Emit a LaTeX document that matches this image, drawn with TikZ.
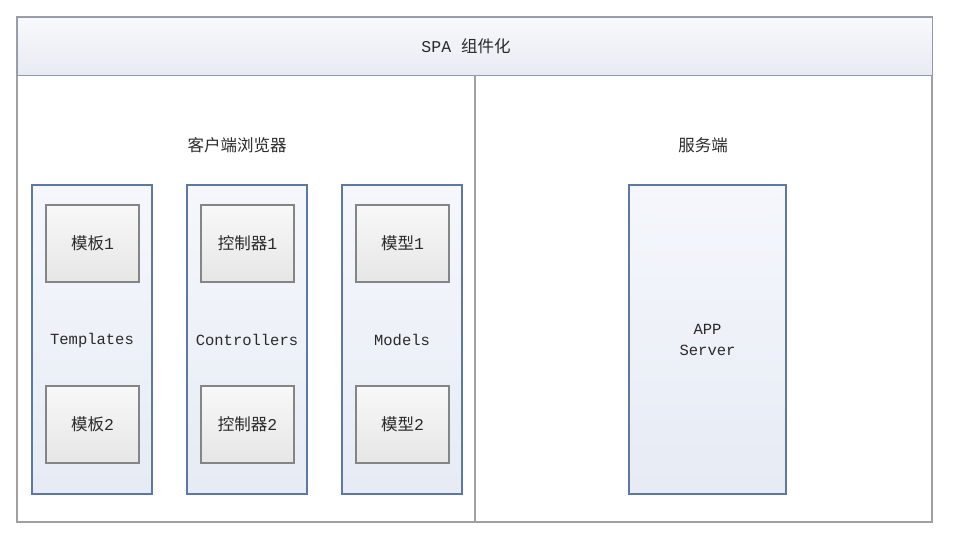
\documentclass[tikz,border=0pt]{standalone}
\usepackage{fontspec}
\newfontfamily\cjk{Noto Sans CJK SC}
\newfontfamily\mono{Liberation Mono}
\definecolor{txt}{HTML}{2A2A2A}
\definecolor{framegray}{HTML}{A0A0A0}
\definecolor{headline}{HTML}{8E99B0}
\definecolor{colline}{HTML}{5E78A6}
\definecolor{boxline}{HTML}{858585}
\definecolor{headtop}{HTML}{F8F9FC}
\definecolor{headbot}{HTML}{E8EBF2}
\definecolor{coltop}{HTML}{F5F7FC}
\definecolor{colbot}{HTML}{E6EBF4}
\definecolor{itemtop}{HTML}{F8F8F8}
\definecolor{itembot}{HTML}{E6E6E6}
\tikzset{
  base/.style={inner sep=0pt, outer sep=0pt, anchor=north west},
  header/.style={base, draw=headline, line width=1pt, top color=headtop, bottom color=headbot},
  colbox/.style={base, draw=colline, line width=1.2pt, top color=coltop, bottom color=colbot},
  itembox/.style={base, draw=boxline, line width=1.2pt, top color=itemtop, bottom color=itembot},
  cjktxt/.style={text=txt, font=\cjk\fontsize{16.5}{19}\selectfont},
  monotxt/.style={text=txt, font=\mono\fontsize{15.5}{21}\selectfont, align=center},
}
\newcommand{\mix}[2]{{\cjk #1}{\mono #2}}
\begin{document}
\begin{tikzpicture}[x=1pt,y=-1pt]
\useasboundingbox (0,0) rectangle (957,533);
% outer frame
\node[base, draw=framegray, line width=1.2pt, minimum width=915pt, minimum height=505pt] (frame) at (17,17) {};
\node[header, minimum width=915pt, minimum height=58pt] (head) at (17,17) {};
\node[text=txt, font=\fontsize{16.5}{19}\selectfont] (title) at (466,46) {{\mono SPA }{\cjk 组件化}};
\coordinate (dtop) at (475,75);
\coordinate (dbot) at (475,522);
\draw[framegray, line width=1.2pt] (dtop) -- (dbot);
% section labels
\node[cjktxt] (client) at (237,145) {客户端浏览器};
\node[cjktxt] (server) at (703,145) {服务端};
% columns
\node[colbox, minimum width=120pt, minimum height=309pt] (tcol) at (32,185) {};
\node[colbox, minimum width=120pt, minimum height=309pt] (ccol) at (187,185) {};
\node[colbox, minimum width=120pt, minimum height=309pt] (mcol) at (342,185) {};
\node[colbox, minimum width=157pt, minimum height=309pt] (app) at (629,185) {};
% items
\node[itembox, minimum width=93pt, minimum height=77pt] (t1) at (46,205) {};
\node[itembox, minimum width=93pt, minimum height=77pt] (t2) at (46,386) {};
\node[itembox, minimum width=93pt, minimum height=77pt] (c1) at (201,205) {};
\node[itembox, minimum width=93pt, minimum height=77pt] (c2) at (201,386) {};
\node[itembox, minimum width=93pt, minimum height=77pt] (m1) at (356,205) {};
\node[itembox, minimum width=93pt, minimum height=77pt] (m2) at (356,386) {};
\node[cjktxt] at (t1.center) {\mix{模板}{1}};
\node[cjktxt] at (t2.center) {\mix{模板}{2}};
\node[cjktxt] at (c1.center) {\mix{控制器}{1}};
\node[cjktxt] at (c2.center) {\mix{控制器}{2}};
\node[cjktxt] at (m1.center) {\mix{模型}{1}};
\node[cjktxt] at (m2.center) {\mix{模型}{2}};
% column labels
\node[monotxt] (tl) at (92,340) {Templates};
\node[monotxt] (cl) at (247,340) {Controllers};
\node[monotxt] (ml) at (402,340) {Models};
\node[monotxt] (al) at (app.center) {APP\\Server};
\end{tikzpicture}
\end{document}
